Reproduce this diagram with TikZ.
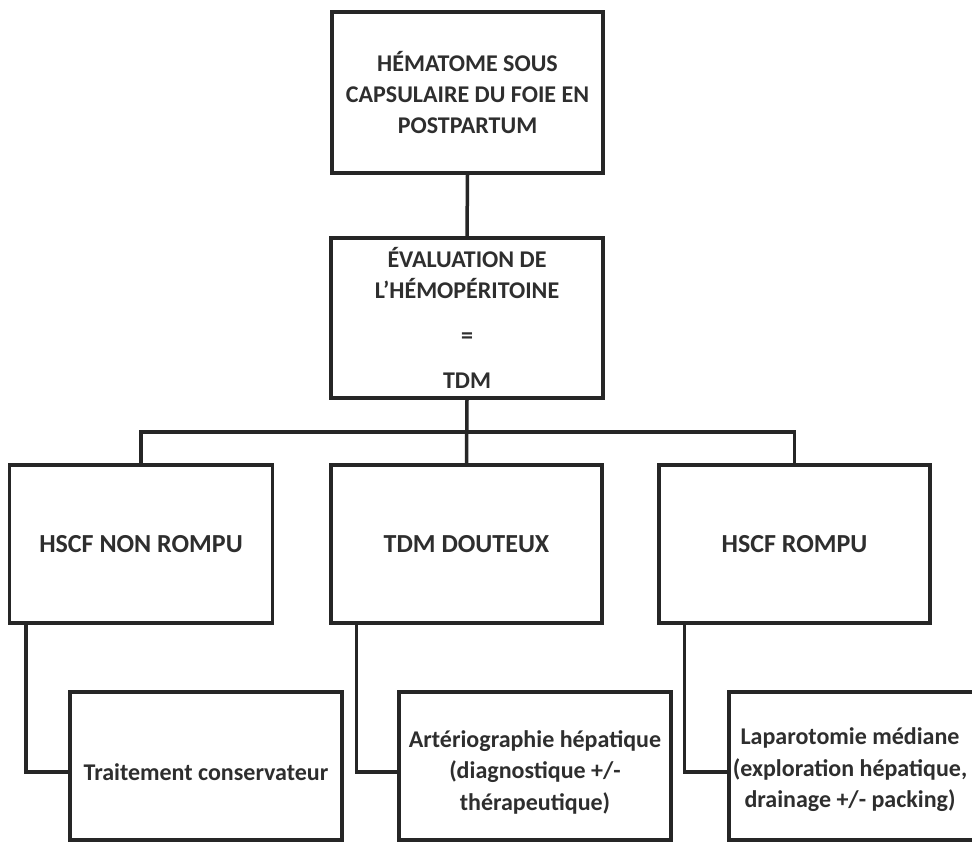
\documentclass[tikz,border=0pt]{standalone}
\usepackage{fontspec}
\setmainfont{Carlito}
\begin{document}
\begin{tikzpicture}[x=1pt,y=-1pt,
  box/.style={draw=lc, line width=3.5pt, rectangle, inner sep=0pt, align=center,
    text=tc, font=\fontsize{24}{31}\selectfont\bfseries},
  mid/.style={box, font=\fontsize{26}{31}\selectfont\bfseries},
  subbox/.style={draw=lc, line width=3.5pt, rectangle, inner sep=0pt, minimum height=148pt},
  subtext/.style={inner sep=0pt, align=center, text=tc, font=\fontsize{24}{31.5}\selectfont\bfseries},
  link/.style={draw=lc, line width=3.5pt}]
\definecolor{lc}{HTML}{262626}
\definecolor{tc}{HTML}{2e2e2e}
\useasboundingbox (0,0) rectangle (972,843);
\fill[white] (0,0) rectangle (972,843);

\node[box, minimum width=271pt, minimum height=161pt] (top) at (467.5,92.5)
  {HÉMATOME SOUS\\CAPSULAIRE DU FOIE EN\\POSTPARTUM};
\node[box, minimum width=272pt, minimum height=160pt] (eval) at (467,318)
  {ÉVALUATION DE\\L'HÉMOPÉRITOINE\\[14pt]=\\[14pt]TDM};

\node[mid, minimum width=263pt, minimum height=158pt] (b1) at (141,544) {HSCF NON ROMPU};
\node[mid, minimum width=271pt, minimum height=158pt] (b2) at (466.5,544) {TDM DOUTEUX};
\node[mid, minimum width=271pt, minimum height=158pt] (b3) at (794.5,544) {HSCF ROMPU};

\node[subbox, minimum width=272pt] (s1) at (206,766) {};
\node[subbox, minimum width=272pt] (s2) at (535,766) {};
\node[subbox, minimum width=248pt] (s3) at (853,766) {};
\node[subtext] (t1) at ([yshift=-6pt]s1.center) {Traitement conservateur};
\node[subtext] (t2) at ([yshift=-6pt]s2.center)
  {Artériographie hépatique\\(diagnostique +/-\\thérapeutique)};
\node[subtext] (t3) at ([xshift=-3pt,yshift=-4pt]s3.center)
  {Laparotomie médiane\\(exploration hépatique,\\drainage +/- packing)};

\coordinate (j) at (467,432);
\draw[link] (top.south) -- (eval.north);
\draw[link] (eval.south) -- (b2.north);
\draw[link] (b1.north) |- (j) -| (b3.north);

\draw[link] ([xshift=18pt]b1.south west) |- ([yshift=-6pt]s1.west);
\draw[link] ([xshift=27pt]b2.south west) |- ([yshift=-6pt]s2.west);
\draw[link] ([xshift=27pt]b3.south west) |- ([yshift=-6pt]s3.west);
\end{tikzpicture}
\end{document}
